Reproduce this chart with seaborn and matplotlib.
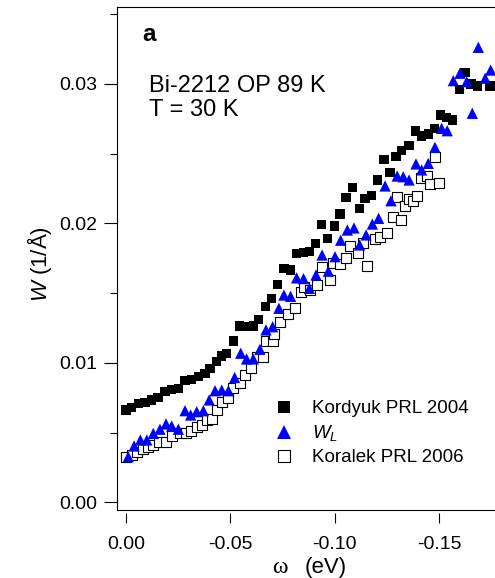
import numpy as np
import pandas as pd
import matplotlib
matplotlib.use("Agg")
import matplotlib.pyplot as plt
from matplotlib.lines import Line2D
from matplotlib.ticker import FixedLocator, MultipleLocator, StrMethodFormatter
import seaborn as sns

# ---- data: linewidth W (1/Å) versus binding energy ω (eV) ----
kordyuk_w = [0.0000, -0.0027, -0.0059, -0.0091, -0.0123, -0.0154, -0.0187, -0.0219,
             -0.0251, -0.0283, -0.0315, -0.0347, -0.0379, -0.0403, -0.0435, -0.0459,
             -0.0483, -0.0514, -0.0546, -0.0578, -0.0610, -0.0634, -0.0670, -0.0698,
             -0.0725, -0.0757, -0.0789, -0.0818, -0.0850, -0.0879, -0.0908, -0.0938,
             -0.0965, -0.0999, -0.1026, -0.1055, -0.1087, -0.1119, -0.1146, -0.1178,
             -0.1205, -0.1237, -0.1266, -0.1294, -0.1322, -0.1357, -0.1389, -0.1418,
             -0.1449, -0.1477, -0.1508, -0.1537, -0.1566, -0.1598, -0.1625, -0.1654,
             -0.1684, -0.1745]
kordyuk_W = [0.00663, 0.00680, 0.00710, 0.00716, 0.00735, 0.00754, 0.00794, 0.00811,
             0.00819, 0.00873, 0.00883, 0.00902, 0.00926, 0.00962, 0.01010, 0.01050,
             0.01070, 0.01158, 0.01265, 0.01260, 0.01265, 0.01313, 0.01404, 0.01464,
             0.01564, 0.01679, 0.01667, 0.01786, 0.01791, 0.01798, 0.01858, 0.01994,
             0.01894, 0.01982, 0.02068, 0.02188, 0.02260, 0.02106, 0.02181, 0.02202,
             0.02312, 0.02460, 0.02364, 0.02479, 0.02522, 0.02561, 0.02663, 0.02627,
             0.02642, 0.02682, 0.02778, 0.02758, 0.02742, 0.02962, 0.03081, 0.03000,
             0.02986, 0.02986]

wl_w = [-0.0011, -0.0039, -0.0069, -0.0100, -0.0131, -0.0163, -0.0192, -0.0219,
        -0.0251, -0.0283, -0.0310, -0.0339, -0.0371, -0.0399, -0.0427, -0.0459,
        -0.0491, -0.0521, -0.0550, -0.0578, -0.0610, -0.0642, -0.0671, -0.0703,
        -0.0733, -0.0757, -0.0789, -0.0818, -0.0851, -0.0879, -0.0911, -0.0940,
        -0.0970, -0.1002, -0.1029, -0.1061, -0.1093, -0.1120, -0.1151, -0.1181,
        -0.1211, -0.1242, -0.1270, -0.1300, -0.1329, -0.1357, -0.1390, -0.1417,
        -0.1449, -0.1481, -0.1513, -0.1540, -0.1569, -0.1601, -0.1633, -0.1660,
        -0.1689, -0.1722, -0.1748]
wl_W = [0.00328, 0.00405, 0.00448, 0.00448, 0.00495, 0.00525, 0.00563, 0.00548,
        0.00525, 0.00658, 0.00627, 0.00651, 0.00658, 0.00735, 0.00801, 0.00806,
        0.00801, 0.00896, 0.01070, 0.01029, 0.01029, 0.01098, 0.01237, 0.01260,
        0.01392, 0.01487, 0.01478, 0.01610, 0.01605, 0.01535, 0.01631, 0.01774,
        0.01658, 0.01762, 0.01880, 0.01953, 0.01968, 0.01846, 0.01918, 0.01996,
        0.02037, 0.02269, 0.02163, 0.02340, 0.02335, 0.02312, 0.02427, 0.02384,
        0.02431, 0.02546, 0.02682, 0.02665, 0.03024, 0.03077, 0.03017, 0.02790,
        0.03263, 0.03041, 0.03100]

koralek_w = [0.0000, -0.0027, -0.0051, -0.0080, -0.0104, -0.0131, -0.0160, -0.0192,
             -0.0219, -0.0259, -0.0288, -0.0310, -0.0339, -0.0363, -0.0387, -0.0413,
             -0.0435, -0.0459, -0.0491, -0.0514, -0.0546, -0.0570, -0.0598, -0.0626,
             -0.0658, -0.0671, -0.0703, -0.0710, -0.0738, -0.0778, -0.0810, -0.0837,
             -0.0852, -0.0880, -0.0917, -0.0938, -0.0978, -0.0994, -0.1026, -0.1055,
             -0.1074, -0.1113, -0.1137, -0.1157, -0.1194, -0.1218, -0.1253, -0.1278,
             -0.1297, -0.1317, -0.1337, -0.1358, -0.1377, -0.1396, -0.1414, -0.1441,
             -0.1457, -0.1481, -0.1501]
koralek_W = [0.00328, 0.00340, 0.00364, 0.00381, 0.00396, 0.00412, 0.00436, 0.00436,
             0.00477, 0.00496, 0.00500, 0.00515, 0.00543, 0.00556, 0.00591, 0.00596,
             0.00663, 0.00723, 0.00747, 0.00819, 0.00855, 0.00914, 0.00962, 0.01040,
             0.01040, 0.01160, 0.01160, 0.01208, 0.01296, 0.01351, 0.01392, 0.01511,
             0.01543, 0.01520, 0.01559, 0.01686, 0.01595, 0.01715, 0.01710, 0.01755,
             0.01839, 0.01791, 0.01858, 0.01695, 0.01887, 0.01905, 0.01934, 0.02049,
             0.02188, 0.02025, 0.02125, 0.02174, 0.02163, 0.02197, 0.02324, 0.02340,
             0.02283, 0.02475, 0.02293]

series_labels = ["Kordyuk PRL 2004", "$W_L$", "Koralek PRL 2006"]
x_ticks = [0.00, -0.05, -0.10, -0.15]
y_ticks = [0.00, 0.01, 0.02, 0.03]

# ---- style ----
sns.set_theme(style="ticks")
plt.rcParams["font.family"] = ["Liberation Sans", "DejaVu Sans"]
plt.rcParams["mathtext.fontset"] = "custom"
plt.rcParams["mathtext.it"] = "Liberation Sans:italic"
plt.rcParams["mathtext.rm"] = "Liberation Sans"
plt.rcParams["axes.unicode_minus"] = False

W_PX, H_PX, DPI = 495, 578, 100
fig = plt.figure(figsize=(W_PX / DPI, H_PX / DPI), dpi=DPI)
fig.patch.set_facecolor("white")


def fx(px):
    return px / W_PX


def fy(py):
    return 1 - py / H_PX


# axes frame spans pixel columns 117..501 (right edge runs past the figure)
ax = fig.add_axes([fx(117), fy(510), (501.5 - 117) / W_PX, (510 - 7) / H_PX])
ax.set_facecolor("white")

df_kor = pd.DataFrame({"w": koralek_w, "W": koralek_W})
df_kord = pd.DataFrame({"w": kordyuk_w, "W": kordyuk_W})
df_wl = pd.DataFrame({"w": wl_w, "W": wl_W})

sns.scatterplot(data=df_kor, x="w", y="W", ax=ax, marker="s", s=44,
                facecolor="white", edgecolor="black", linewidth=0.8, zorder=3)
sns.scatterplot(data=df_kord, x="w", y="W", ax=ax, marker="s", s=44,
                color="black", edgecolor="none", linewidth=0, zorder=4)
sns.scatterplot(data=df_wl, x="w", y="W", ax=ax, marker="^", s=66,
                color="#0000ff", edgecolor="none", linewidth=0, zorder=5)

ax.set_xlim(0.0043, -0.18)
ax.set_ylim(-0.00054, 0.03552)
ax.set_xlabel("")
ax.set_ylabel("")

# ticks
ax.xaxis.set_major_locator(FixedLocator(x_ticks))
ax.xaxis.set_major_formatter(StrMethodFormatter("{x:.2f}"))
ax.yaxis.set_major_locator(FixedLocator(y_ticks))
ax.yaxis.set_minor_locator(MultipleLocator(0.005))
ax.yaxis.set_major_formatter(StrMethodFormatter("{x:.2f}"))
ax.tick_params(axis="y", which="major", direction="out", length=9.5, width=0.8,
               pad=4.5, labelsize=14, colors="black")
ax.tick_params(axis="y", which="minor", direction="out", length=5, width=0.8,
               colors="black")
ax.tick_params(axis="x", which="major", direction="out", length=7.5, width=0.8,
               pad=9, labelsize=14, colors="black")
ax.tick_params(axis="x", which="minor", length=0)

for side in ["left", "top", "right"]:
    ax.spines[side].set_linewidth(0.8)
    ax.spines[side].set_color("black")
# x ticks hang slightly below the frame
ax.spines["bottom"].set_position(("outward", 2.5))
ax.spines["bottom"].set_visible(False)
ax.plot([0, 1], [0, 0], transform=ax.transAxes, color="black", lw=0.8,
        clip_on=False, zorder=6)

# axis titles
fig.text(fx(40), fy(264), "$W$ (1/Å)", rotation=90, ha="center", va="center",
         fontsize=16, color="black")
fig.text(fx(280), fy(573), "ω", ha="center", va="baseline", fontsize=17,
         family="Liberation Serif", color="black")
fig.text(fx(305), fy(573), "(eV)", ha="left", va="baseline", fontsize=16,
         color="black")

# panel annotations
fig.text(fx(142), fy(41), "a", ha="left", va="baseline", fontsize=17.5,
         fontweight="bold", color="black")
fig.text(fx(149), fy(92), "Bi-2212 OP 89 K", ha="left", va="baseline",
         fontsize=17, color="black")
fig.text(fx(149), fy(116), "T = 30 K", ha="left", va="baseline",
         fontsize=17, color="black")

# legend
handles = [
    Line2D([], [], linestyle="none", marker="s", markersize=9,
           markerfacecolor="black", markeredgecolor="black", markeredgewidth=0),
    Line2D([], [], linestyle="none", marker="^", markersize=9.5,
           markerfacecolor="#0000ff", markeredgecolor="#0000ff", markeredgewidth=0),
    Line2D([], [], linestyle="none", marker="s", markersize=8.5,
           markerfacecolor="white", markeredgecolor="black", markeredgewidth=0.8),
]
leg = ax.legend(handles, series_labels, loc="upper left",
                bbox_to_anchor=(fx(275), fy(400)), bbox_transform=fig.transFigure,
                frameon=False, fontsize=13.5, handlelength=1.0,
                handletextpad=1.0, labelspacing=0.32, borderpad=0,
                borderaxespad=0)
for t in leg.get_texts():
    t.set_color("black")

fig.savefig("out.png", dpi=DPI, facecolor="white")
